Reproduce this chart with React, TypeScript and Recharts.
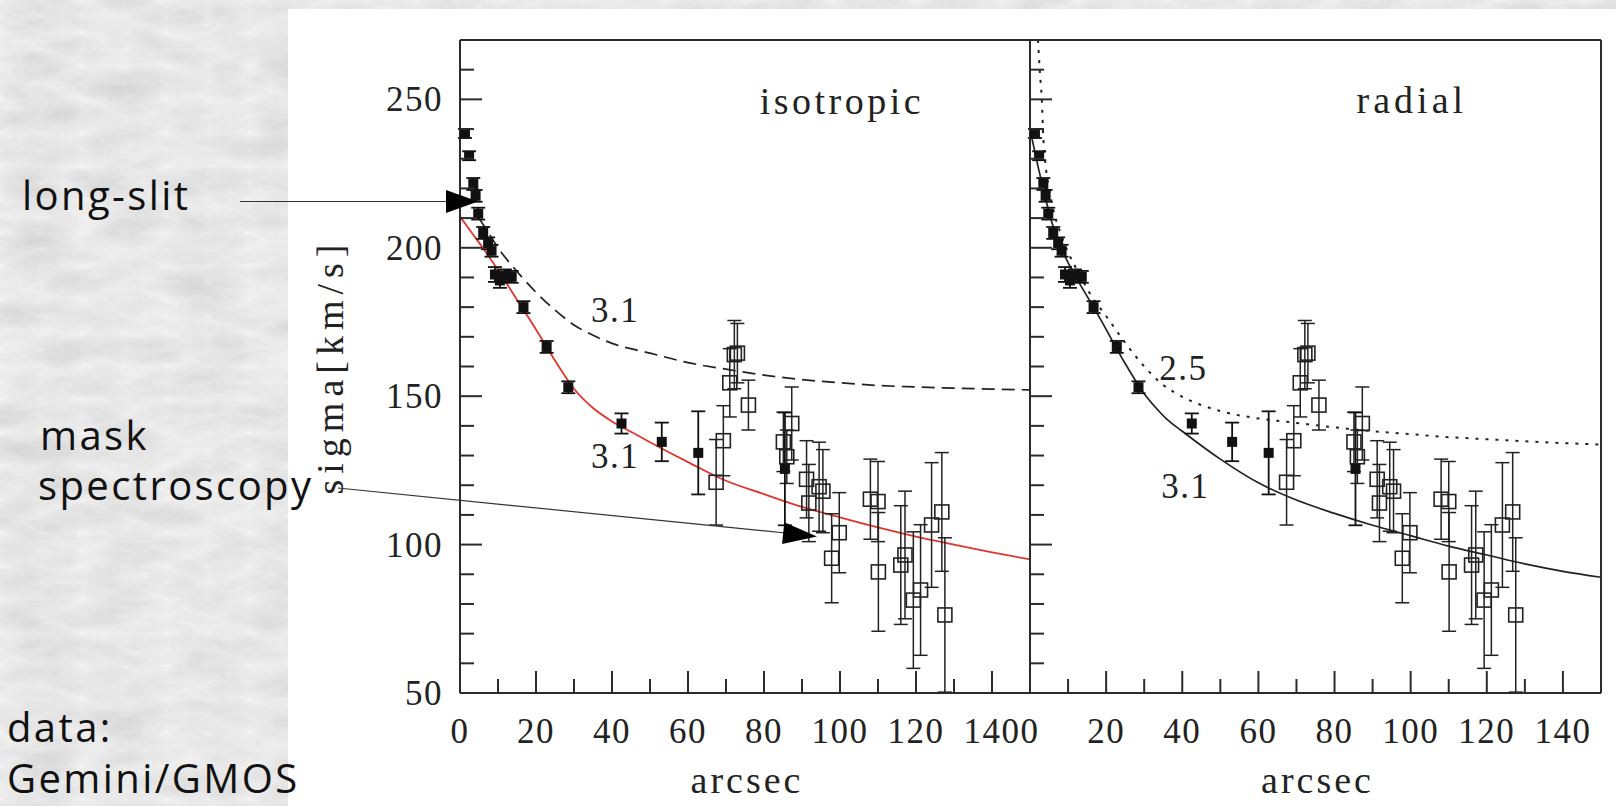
import React from 'react';
import { ComposedChart, Line, Scatter, XAxis, YAxis, ErrorBar, ReferenceDot } from 'recharts';

// long-slit points (filled squares): radius [arcsec], sigma [km/s], error
const slitR = [1.3, 2.4, 3.5, 4.1, 4.8, 6.1, 7.4, 8.3, 9.2, 10.5, 11.8, 13.6, 16.7, 22.8, 28.5, 42.5, 53.1, 62.7, 85.5];
const slitSigma = [238.5, 231, 221.5, 217.5, 211.5, 205, 201.5, 199, 191, 189, 190.7, 190.2, 180, 166.6, 153, 140.8, 134.6, 130.9, 125.5];
const slitErr = [1.5, 1.5, 2, 2, 2, 2, 2, 2, 2.5, 2.5, 2, 2, 2, 2, 2, 3.4, 6.5, 14, 19];

// mask spectroscopy points (open squares)
const maskR = [67.4, 69.3, 71.0, 72.2, 73.0, 75.9, 85.1, 86.0, 87.3, 91.2, 91.8, 94.5, 95.5, 97.8, 99.8, 108.0, 110.0, 110.1, 116.0, 117.1, 119.3, 121.2, 124.1, 126.8, 127.6];
const maskSigma = [121, 135, 154.5, 164, 164.5, 147, 134.6, 129.6, 140.8, 122, 114, 119.5, 118, 95.4, 104, 115.3, 114.5, 90.8, 93.1, 96.5, 81.3, 84.7, 106.6, 111, 76.3];
const maskErr = [14.4, 11.8, 11.5, 11.5, 10, 8.4, 10, 9, 12.3, 13, 13, 15, 14, 15, 13.5, 13.5, 13.5, 20, 20, 21.5, 23, 22, 21, 20, 26];

// isotropic models
const isoFitR = [0, 2, 4, 6, 8, 10, 13, 16, 20, 25, 30, 35, 40, 45, 50, 60, 70, 80, 90, 100, 110, 120, 130, 140, 150];
const isoFitSigma = [210.5, 207, 203.5, 200, 196.3, 192.5, 186.5, 180.5, 172.5, 162, 152.5, 146, 141.5, 138, 134.5, 127.8, 121.5, 117, 112.7, 109.2, 105.8, 102.7, 100, 97.4, 95];
const isoDashR = [5, 8, 10, 13, 15, 20, 25, 30, 35, 40, 50, 60, 70, 80, 90, 100, 110, 120, 130, 140, 150];
const isoDashSigma = [210, 204, 200, 195, 192, 185, 179, 174, 170.5, 167.8, 164.5, 161.3, 159.1, 157.1, 155.6, 154.5, 153.6, 153.1, 152.7, 152.4, 152.1];

// radial models
const radFitR = [0, 1, 2, 3, 4, 5, 6, 8, 10, 13, 16, 20, 22, 25, 28, 30, 33, 36, 40, 50, 60, 70, 80, 90, 100, 110, 120, 130, 140, 150];
const radFitSigma = [240, 234, 228, 222.5, 217, 212, 207.5, 200.5, 195, 188, 181.5, 172.5, 167.8, 161, 154.7, 150.8, 146.2, 142.2, 138.2, 128.8, 120.8, 115, 110.5, 106.5, 103, 99.5, 96.5, 93.5, 91, 89];
const radDotR = [2.1, 2.6, 3.1, 3.5, 4, 5, 6, 8, 10, 13, 16, 20, 25, 30, 35, 40, 50, 60, 70, 80, 90, 100, 110, 120, 130, 140, 150];
const radDotSigma = [270, 259, 250, 237, 229, 220, 213.5, 205, 198.5, 191, 184, 177, 168, 160, 153.8, 149.8, 145, 142.5, 141, 139.5, 138.2, 137.2, 136.2, 135.5, 134.8, 134.2, 133.7];

const xTicks = [0, 10, 20, 30, 40, 50, 60, 70, 80, 90, 100, 110, 120, 130, 140, 150];
const yTicks = [50, 60, 70, 80, 90, 100, 110, 120, 130, 140, 150, 160, 170, 180, 190, 200, 210, 220, 230, 240, 250, 260, 270];

const toPts = (xs: number[], ys: number[], es?: number[]) =>
  xs.map((x, i) => ({ x, y: ys[i], err: es ? es[i] : 0 }));

const slitPts = toPts(slitR, slitSigma, slitErr);
const maskPts = toPts(maskR, maskSigma, maskErr);
const isoFit = toPts(isoFitR, isoFitSigma);
const isoDash = toPts(isoDashR, isoDashSigma);
const radFit = toPts(radFitR, radFitSigma);
const radDot = toPts(radDotR, radDotSigma);

const W = 1616;
const H = 806;
const AXIS = '#2b2b2b';
const SERIF = '"Liberation Serif", "DejaVu Serif", serif';
const SANS = '"Open Sans", "Noto Sans", sans-serif';
const MAJ = 22;
const MIN = 14;

const BottomTick = (p: any) => {
  const v = p.payload.value;
  const major = v % 20 === 0;
  return (
    <g>
      <line x1={p.x} x2={p.x} y1={p.y} y2={p.y - (major ? MAJ : MIN)} stroke={AXIS} strokeWidth={2} />
      {major && v < 150 && (
        <text x={p.x} y={p.y + 50} textAnchor="middle" fontFamily={SERIF} fontSize={35} letterSpacing={1.5} fill="#222">
          {v}
        </text>
      )}
    </g>
  );
};

const TopTick = (p: any) => {
  const major = p.payload.value % 20 === 0;
  return <line x1={p.x} x2={p.x} y1={p.y} y2={p.y + (major ? MAJ : MIN)} stroke={AXIS} strokeWidth={2} />;
};

const makeLeftTick = (withLabels: boolean) => (p: any) => {
  const v = p.payload.value;
  const major = v % 50 === 0;
  return (
    <g>
      <line x1={p.x} x2={p.x + (major ? MAJ : MIN)} y1={p.y} y2={p.y} stroke={AXIS} strokeWidth={2} />
      {withLabels && major && v < 270 && (
        <text x={p.x - 17} y={p.y + 12} textAnchor="end" fontFamily={SERIF} fontSize={35} letterSpacing={1.5} fill="#222">
          {v}
        </text>
      )}
    </g>
  );
};

const RightTick = (p: any) => {
  const major = p.payload.value % 50 === 0;
  return <line x1={p.x} x2={p.x - (major ? MAJ : MIN)} y1={p.y} y2={p.y} stroke={AXIS} strokeWidth={2} />;
};

const FilledSq = (p: any) => <rect x={p.cx - 5} y={p.cy - 5} width={10} height={10} fill="#111" />;
const OpenSq = (p: any) => (
  <rect x={p.cx - 7} y={p.cy - 7} width={14} height={14} fill="none" stroke="#222" strokeWidth={1.6} />
);

const SigmaTitle = (p: any) => {
  const vb = p.viewBox;
  if (!vb) return null;
  const x = vb.x + 53;
  const y = vb.y + vb.height / 2;
  return (
    <text x={x} y={y} transform={`rotate(-90 ${x} ${y})`} textAnchor="middle" fontFamily={SERIF} fontSize={38} letterSpacing={6} fill="#222">
      sigma[km/s]
    </text>
  );
};

const ArcsecTitle = (p: any) => {
  const vb = p.viewBox;
  if (!vb) return null;
  return (
    <text x={vb.x + vb.width / 2 + 2} y={vb.y + 100} textAnchor="middle" fontFamily={SERIF} fontSize={38} letterSpacing={3} fill="#222">
      arcsec
    </text>
  );
};

interface Curve {
  data: { x: number; y: number }[];
  stroke: string;
  width: number;
  dash?: string;
}
interface Note {
  x: number;
  y: number;
  text: string;
  size: number;
  ls: number;
}

function Panel({ left, width, leftW, rightW, curves, notes }: {
  left: boolean; width: number; leftW: number; rightW: number; curves: Curve[]; notes: Note[];
}) {
  return (
    <ComposedChart width={width} height={H} margin={{ top: 0, right: 0, bottom: 0, left: 0 }}>
      <XAxis dataKey="x" type="number" domain={[0, 150]} ticks={xTicks} interval={0} height={113}
        tickSize={0} tickMargin={0} tickLine={false} tick={BottomTick}
        axisLine={{ stroke: AXIS, strokeWidth: 2 }} label={ArcsecTitle} />
      <XAxis xAxisId="top" orientation="top" dataKey="x" type="number" domain={[0, 150]} ticks={xTicks} interval={0} height={40}
        tickSize={0} tickMargin={0} tickLine={false} tick={TopTick} axisLine={{ stroke: AXIS, strokeWidth: 2 }} />
      <YAxis type="number" domain={[50, 270]} ticks={yTicks} interval={0} width={leftW}
        tickSize={0} tickMargin={0} tickLine={false} tick={makeLeftTick(left)}
        axisLine={{ stroke: AXIS, strokeWidth: 2 }} label={left ? SigmaTitle : undefined} />
      <YAxis yAxisId="r" orientation="right" type="number" domain={[50, 270]} ticks={yTicks} interval={0} width={rightW}
        tickSize={0} tickMargin={0} tickLine={false} tick={RightTick} axisLine={{ stroke: AXIS, strokeWidth: 2 }} />
      {curves.map((c, i) => (
        <Line key={i} data={c.data} dataKey="y" type="monotone" stroke={c.stroke} strokeWidth={c.width}
          strokeDasharray={c.dash} dot={false} activeDot={false} isAnimationActive={false} />
      ))}
      <Scatter data={maskPts} dataKey="y" shape={OpenSq} isAnimationActive={false}>
        <ErrorBar dataKey="err" direction="y" width={7} stroke="#222" strokeWidth={1.5} />
      </Scatter>
      <Scatter data={slitPts} dataKey="y" shape={FilledSq} isAnimationActive={false}>
        <ErrorBar dataKey="err" direction="y" width={7} stroke="#111" strokeWidth={1.8} />
      </Scatter>
      {notes.map((n, i) => (
        <ReferenceDot key={i} x={n.x} y={n.y} r={0}
          shape={(p: any) => (
            <text x={p.cx} y={p.cy} textAnchor="middle" fontFamily={SERIF} fontSize={n.size} letterSpacing={n.ls} fill="#222">
              {n.text}
            </text>
          )} />
      ))}
    </ComposedChart>
  );
}

export default function App() {
  return (
    <div style={{ position: 'absolute', left: 0, top: 0, width: W, height: H, overflow: 'hidden' }}>
      <svg width={W} height={H} style={{ position: 'absolute', left: 0, top: 0 }}>
        <defs>
          <filter id="marble" x="0" y="0" width="100%" height="100%">
            <feTurbulence type="turbulence" baseFrequency="0.012 0.03" numOctaves="4" seed="7" result="n" />
            <feColorMatrix in="n" type="matrix"
              values="0.33 0.33 0.33 0 0  0.33 0.33 0.33 0 0  0.33 0.33 0.33 0 0  0 0 0 0 1" />
            <feComponentTransfer>
              <feFuncR type="linear" slope="-0.36" intercept="0.91" />
              <feFuncG type="linear" slope="-0.36" intercept="0.91" />
              <feFuncB type="linear" slope="-0.36" intercept="0.91" />
            </feComponentTransfer>
          </filter>
        </defs>
        <rect width={W} height={H} fill="#d2d2d2" filter="url(#marble)" />
        <rect x={288} y={9} width={W - 288} height={H - 9} fill="#ffffff" />
      </svg>

      <div style={{ position: 'absolute', left: 290, top: 0 }}>
        <Panel left width={760} leftW={170} rightW={20}
          curves={[
            { data: isoDash, stroke: '#222', width: 1.7, dash: '13 7' },
            { data: isoFit, stroke: '#e3342c', width: 1.8 },
          ]}
          notes={[
            { x: 100.5, y: 245, text: 'isotropic', size: 38, ls: 3.5 },
            { x: 40.8, y: 174.9, text: '3.1', size: 35, ls: 1.5 },
            { x: 40.8, y: 125.8, text: '3.1', size: 35, ls: 1.5 },
          ]} />
      </div>
      <div style={{ position: 'absolute', left: 1010, top: 0 }}>
        <Panel left={false} width={606} leftW={20} rightW={15}
          curves={[
            { data: radDot, stroke: '#222', width: 2, dash: '3 7' },
            { data: radFit, stroke: '#222', width: 1.7 },
          ]}
          notes={[
            { x: 100.3, y: 245.3, text: 'radial', size: 38, ls: 4 },
            { x: 40.3, y: 155.4, text: '2.5', size: 35, ls: 1.5 },
            { x: 40.8, y: 115.7, text: '3.1', size: 35, ls: 1.5 },
          ]} />
      </div>

      <svg width={W} height={H} style={{ position: 'absolute', left: 0, top: 0, pointerEvents: 'none' }}>
        <g fontFamily={SANS} fontSize={40} letterSpacing={2.4} fill="#111">
          <text x={22} y={210}>long-slit</text>
          <text x={40} y={450}>mask</text>
          <text x={38} y={500}>spectroscopy</text>
          <text x={7} y={742}>data:</text>
          <text x={7} y={793}>Gemini/GMOS</text>
        </g>
        <line x1={240} y1={201.5} x2={450} y2={201.5} stroke="#333" strokeWidth={1.2} />
        <polygon points="446,190 478,201.5 446,213" fill="#000" />
        <line x1={338} y1={488} x2={786} y2={533} stroke="#333" strokeWidth={1.2} />
        <polygon points="784.3,522.2 817,536.5 782.1,544" fill="#000" />
      </svg>
    </div>
  );
}
